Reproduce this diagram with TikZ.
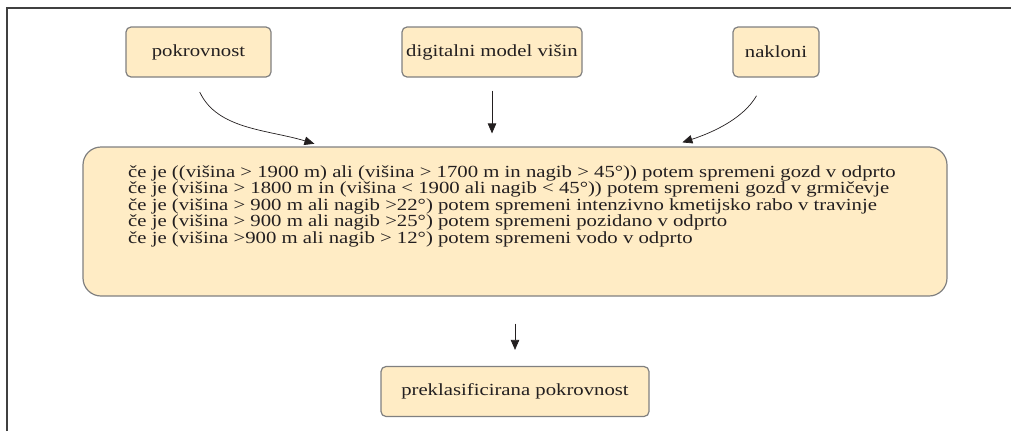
\documentclass[tikz,border=0pt]{standalone}
\usepackage{fontspec}
\setmainfont{Liberation Serif}[FakeStretch=1.22]
\usepackage{tikz}
\usetikzlibrary{arrows.meta}
\definecolor{boxfill}{RGB}{255,236,197}
\definecolor{boxline}{RGB}{128,128,128}
\definecolor{ink}{RGB}{35,31,32}
\tikzset{
	inbox/.style={draw=boxline,line width=1.2pt,fill=boxfill,rounded corners=5pt,
		minimum height=50pt,inner sep=0pt,text=ink,font=\fontsize{17}{20}\selectfont},
	rulebox/.style={draw=boxline,line width=1.2pt,fill=boxfill,rounded corners=18pt,
		minimum width=864pt,minimum height=149pt,inner sep=0pt},
	arr/.style={draw=ink,line width=0.7pt,-{Triangle[length=10pt,width=8.5pt]}}
}

\begin{document}
\begin{tikzpicture}[x=1pt,y=1pt]
	\useasboundingbox (0,0) rectangle (1011,-431);
	\draw[line width=1.5pt,draw=black!75] (7,-431) -- (7,-8) -- (1011,-8);
	% input layers
	\node[inbox,minimum width=145pt] (pokr) at (198.5,-52) {pokrovnost};
	\node[inbox,minimum width=180pt] (dmv) at (492,-52) {digitalni model višin};
	\node[inbox,minimum width=86pt] (nakl) at (776,-52) {nakloni};
	% rules
	\node[rulebox] (rules) at (515,-221.5) {};
	\node[align=left,anchor=north west,inner sep=0pt,text=ink,font=\fontsize{17}{16.5}\selectfont] (rulestxt) at (128,-165) {%
		če je ((višina > 1900 m) ali (višina > 1700 m in nagib > 45°)) potem spremeni gozd v odprto\\
		če je (višina > 1800 m in (višina < 1900 ali nagib < 45°)) potem spremeni gozd v grmičevje\\
		če je (višina > 900 m ali nagib >22°) potem spremeni intenzivno kmetijsko rabo v travinje\\
		če je (višina > 900 m ali nagib >25°) potem spremeni pozidano v odprto\\
		če je (višina >900 m ali nagib > 12°) potem spremeni vodo v odprto};
	% output
	\node[inbox,minimum width=268pt] (prek) at (515,-391.5) {preklasificirana pokrovnost};
	\draw[arr,shorten <=16pt,shorten >=9pt] ([xshift=-5.5pt]pokr.south) to[out=-65,in=163] ([xshift=-192pt]rules.north);
	\draw[arr,shorten <=13pt,shorten >=13pt] (dmv.south) -- (dmv.south |- rules.north);
	\draw[arr,shorten <=21pt,shorten >=13pt] ([xshift=-9pt]nakl.south) to[out=-120,in=18] ([xshift=155pt]rules.north);
	\draw[arr,shorten <=27pt,shorten >=16pt] (rules.south) -- (prek.north);
\end{tikzpicture}
\end{document}
